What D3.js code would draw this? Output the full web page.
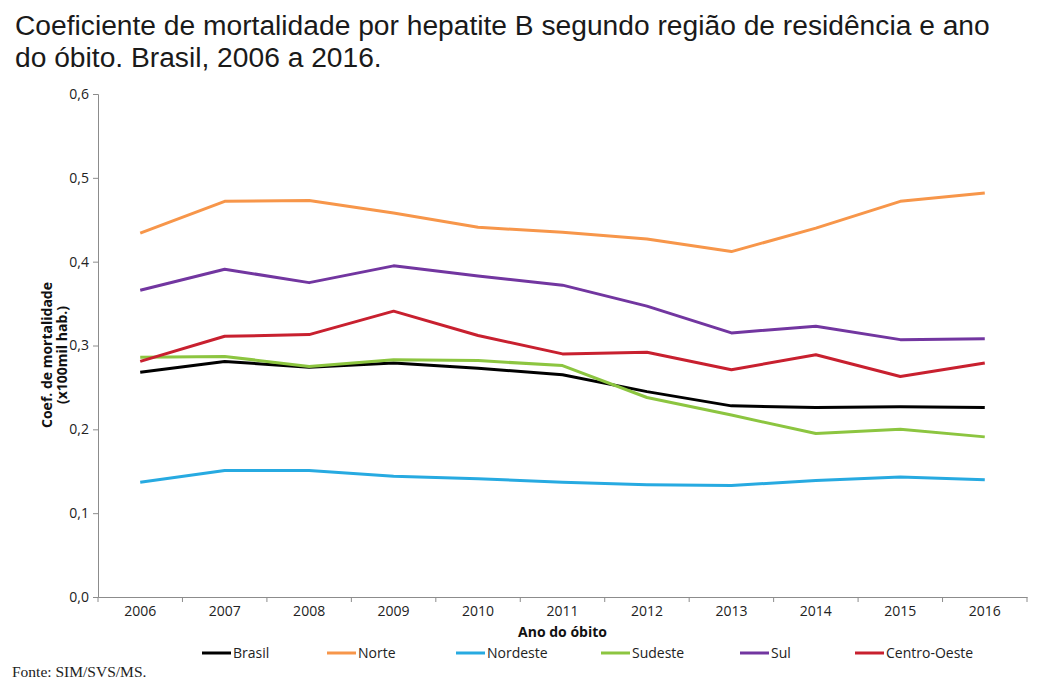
<!DOCTYPE html>
<html><head><meta charset="utf-8">
<script src="https://cdn.jsdelivr.net/npm/d3@7"></script>
<style>body{margin:0;background:#fff;} svg{display:block;}</style>
</head><body>
<svg id="c" width="1048" height="686"></svg>
<script>
const years = ["2006","2007","2008","2009","2010","2011","2012","2013","2014","2015","2016"];
const yTicks = [0,0.1,0.2,0.3,0.4,0.5,0.6];
const seriesNames = ["Brasil","Norte","Nordeste","Sudeste","Sul","Centro-Oeste"];
const brasil = [0.268,0.281,0.274,0.279,0.273,0.265,0.245,0.228,0.226,0.227,0.226];
const norte = [0.434,0.472,0.473,0.458,0.441,0.435,0.427,0.412,0.440,0.472,0.482];
const nordeste = [0.137,0.151,0.151,0.144,0.141,0.137,0.134,0.133,0.139,0.143,0.140];
const sudeste = [0.286,0.287,0.275,0.283,0.282,0.276,0.238,0.217,0.195,0.200,0.191];
const sul = [0.366,0.391,0.375,0.395,0.383,0.372,0.347,0.315,0.323,0.307,0.308];
const centroOeste = [0.281,0.311,0.313,0.341,0.312,0.290,0.292,0.271,0.289,0.263,0.279];
const colors = ["#000000","#F7964A","#27AAE1","#8CC540","#7236A0","#C8202F"];
const values = [brasil,norte,nordeste,sudeste,sul,centroOeste];

(function(){
const svg = d3.select("#c");
const pL = 98, pR = 1027, pT = 94, pB = 597;
const x = d3.scaleBand().domain(years).range([pL,pR]);
const y = d3.scaleLinear().domain([0,0.6]).range([pB,pT]);

// title
const title = svg.append("text").attr("font-family","'Liberation Sans Narrow','Arial Narrow',sans-serif")
  .attr("font-size",28.2).attr("fill","#1a1a1a");
title.append("tspan").attr("x",15).attr("y",35).text("Coeficiente de mortalidade por hepatite B segundo região de residência e ano");
title.append("tspan").attr("x",15).attr("y",67).text("do óbito. Brasil, 2006 a 2016.");

const fmt = d => d.toFixed(1).replace(".",",");
const font = "'Open Sans','Noto Sans',sans-serif";

// y axis
const ya = svg.append("g").attr("transform",`translate(${pL},0)`)
  .call(d3.axisLeft(y).tickValues(yTicks).tickFormat(fmt).tickSize(5).tickPadding(4));
ya.select(".domain").attr("stroke","#8c8c8c");
ya.selectAll(".tick line").attr("stroke","#8c8c8c");
ya.selectAll("text").attr("font-family",font).attr("font-size",14).attr("fill","#222");

// x axis
const xa = svg.append("g").attr("transform",`translate(0,${pB})`)
  .call(d3.axisBottom(x).tickSize(0).tickPadding(9));
xa.select(".domain").attr("stroke","#8c8c8c");
xa.selectAll(".tick line").remove();
xa.selectAll("text").attr("font-family",font).attr("font-size",14).attr("fill","#222");
const edges = years.map(d=>x(d)).concat([pR]);
xa.selectAll(".edge").data(edges).enter().append("line")
  .attr("x1",d=>d).attr("x2",d=>d).attr("y1",0).attr("y2",5).attr("stroke","#8c8c8c");

// axis titles
svg.append("text").attr("x",(pL+pR)/2).attr("y",637).attr("text-anchor","middle")
  .attr("font-family",font).attr("font-weight","bold").attr("font-size",14).attr("fill","#111").text("Ano do óbito");
const yt = svg.append("text").attr("transform","translate(0,355) rotate(-90)").attr("text-anchor","middle")
  .attr("font-family",font).attr("font-weight","bold").attr("font-size",14).attr("fill","#111");
yt.append("tspan").attr("x",0).attr("y",52).text("Coef. de mortalidade");
yt.append("tspan").attr("x",0).attr("y",67).text("(x100mil hab.)");

// lines
const line = d3.line().x((d,i)=>x(years[i])+x.bandwidth()/2).y(d=>y(d));
svg.append("g").selectAll("path").data(values).enter().append("path")
  .attr("d",line).attr("fill","none").attr("stroke",(d,i)=>colors[i]).attr("stroke-width",3)
  .attr("stroke-linejoin","round");

// legend
const legX = [202,327,456,601,740,855];
const lg = svg.append("g").selectAll("g").data(seriesNames).enter().append("g")
  .attr("transform",(d,i)=>`translate(${legX[i]},653)`);
lg.append("line").attr("x1",0).attr("x2",29).attr("y1",0).attr("y2",0)
  .attr("stroke",(d,i)=>colors[i]).attr("stroke-width",3);
lg.append("text").attr("x",31).attr("y",5).attr("font-family",font).attr("font-size",14)
  .attr("fill","#222").text(d=>d);

// source
svg.append("text").attr("x",12).attr("y",677).attr("font-family","'Liberation Serif','Times New Roman',serif")
  .attr("font-size",15.5).attr("fill","#222").text("Fonte: SIM/SVS/MS.");
})();
</script>
</body></html>
